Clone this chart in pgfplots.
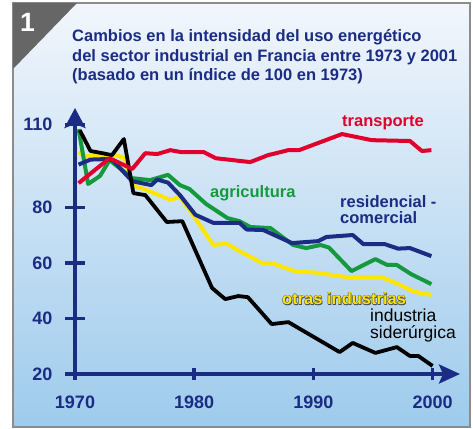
\documentclass[border=0pt]{standalone}
\usepackage{pgfplots}
\pgfplotsset{compat=1.18}
\usepackage{fontspec}
\setmainfont{Liberation Sans}
\usetikzlibrary{arrows.meta}
\definecolor{navy}{HTML}{1B2C85}
\definecolor{tred}{HTML}{E0002B}
\definecolor{tgreen}{HTML}{149A3C}
\definecolor{tyellow}{HTML}{FFE600}
\definecolor{tabgray}{HTML}{666666}
\definecolor{bgtop}{HTML}{F2F6FC}
\definecolor{bgbot}{HTML}{9ECBEC}
\definecolor{bordergray}{HTML}{8C8C8C}

\begin{document}
\begin{tikzpicture}
\begin{scope}[x=1pt,y=1pt]
\path (0,0) rectangle (473,428);
\shade[top color=bgtop, bottom color=bgbot] (13,1) rectangle (470,425);
\draw[bordergray, line width=1.3pt] (13,1) rectangle (470,425);
\fill[tabgray] (13,425) -- (77,425) -- (13,359) -- cycle;
\node[white, font=\bfseries\fontsize{26.5}{26.5}\selectfont, anchor=base, inner sep=0pt] at (27.5,396.3) {1};
\begin{scope}[every node/.style={anchor=base west, inner sep=0pt, text=navy, font=\bfseries\fontsize{16.5}{19}\selectfont}]
\node at (72,386.3) {Cambios en la intensidad del uso energético};
\node at (72,366.3) {del sector industrial en Francia entre 1973 y 2001};
\node at (72,347) {(basado en un índice de 100 en 1973)};
\end{scope}
\end{scope}

\begin{axis}[
  at={(75pt,54pt)}, anchor=south west, scale only axis,
  width=385pt, height=266pt,
  xmin=1970, xmax=2002.3, ymin=20, ymax=115.9,
  axis lines=left,
  axis line style={navy, line width=3.5pt},
  x axis line style={-{Stealth[length=21pt,width=19pt,inset=4pt]}},
  y axis line style={-{Stealth[length=20pt,width=21pt,inset=4pt]}},
  xtick={1970,1980,1990,2000}, xticklabels={1970,1980,1990,2000},
  ytick={20,40,60,80,110}, yticklabels={20,40,60,80,110},
  tick align=center,
  major tick length=20pt,
  y tick style={navy, line width=3.5pt},
  x tick style={draw=none},
  /pgf/number format/assume math mode=true,
  ticklabel style={text=navy, font=\bfseries\fontsize{18}{18}\selectfont},
  xticklabel style={yshift=-8pt},
  yticklabel style={xshift=-9pt},
  clip=false,
  every axis plot/.append style={line width=4pt, line join=round},
]
% otras industrias
\addplot[tyellow] coordinates {
(1970.3,100.0) (1970.8,98.4) (1971.7,98.9) (1973.4,98.9) (1974.1,98.0)
(1974.8,88.1) (1975.9,86.5) (1978.0,82.8) (1978.8,83.8) (1979.9,77.4)
(1981.6,66.5) (1982.7,67.0) (1983.8,64.3) (1985.7,60.0) (1986.5,60.0)
(1988.6,56.8) (1990.2,56.6) (1993.3,54.6) (1995.8,54.8) (1997.3,52.1)
(1998.4,49.7) (1999.9,48.5)};
% agricultura
\addplot[tgreen] coordinates {
(1970.3,108.3) (1971.1,88.5) (1972.1,91.4) (1972.9,97.1) (1974.8,90.6)
(1976.3,89.9) (1977.8,91.8) (1978.8,88.1) (1979.6,86.7) (1981.0,81.3)
(1982.8,76.2) (1983.8,75.1) (1984.7,73.0) (1986.4,72.6) (1988.3,66.5)
(1989.4,65.4) (1990.6,66.5) (1991.3,65.6) (1993.2,57.1) (1995.2,61.4)
(1996.2,59.3) (1997.0,59.3) (1998.2,56.0) (1999.9,52.4)};
% residencial - comercial
\addplot[navy] coordinates {
(1970.3,95.5) (1971.3,97.3) (1972.7,97.5) (1973.2,96.9) (1974.8,89.5)
(1976.4,88.1) (1976.9,90.1) (1977.8,89.0) (1978.8,84.5) (1980.1,77.4)
(1981.6,74.5) (1983.8,74.5) (1984.4,72.1) (1985.8,71.9) (1988.2,67.2)
(1990.4,67.9) (1991.1,69.4) (1993.3,70.1) (1994.2,66.8) (1996.0,66.8)
(1997.1,65.2) (1998.1,65.4) (1999.9,62.5)};
% industria siderurgica
\addplot[black, line width=3.8pt] coordinates {
(1970.4,107.9) (1971.3,100.4) (1972.3,99.6) (1973.1,98.9) (1974.1,104.7)
(1974.9,85.2) (1975.9,84.5) (1977.7,74.8) (1979.0,75.1) (1981.5,51.0)
(1982.6,47.0) (1983.7,48.1) (1984.5,47.7) (1986.5,38.0) (1987.9,38.7)
(1992.2,27.9) (1993.3,31.2) (1995.2,27.6) (1997.0,29.7) (1998.1,26.5)
(1998.8,26.5) (2000.0,22.9)};
% transporte
\addplot[tred] coordinates {
(1970.3,88.8) (1972.9,97.8) (1974.8,93.9) (1975.9,99.6) (1976.9,99.3)
(1978.0,100.7) (1978.9,100.0) (1980.8,100.0) (1981.8,97.8) (1984.7,96.4)
(1986.2,98.9) (1987.9,100.7) (1988.8,100.7) (1992.4,106.5) (1994.9,104.3)
(1998.1,104.0) (1999.1,100.4) (1999.9,100.7)};
% x-axis tick marks
\draw[navy, line width=3.5pt] (axis cs:1970,20) ++(0pt,-6pt) -- ++(0pt,12pt);
\draw[navy, line width=3.5pt] (axis cs:1980,20) ++(0pt,-6pt) -- ++(0pt,12pt);
\draw[navy, line width=3.5pt] (axis cs:1990,20) ++(0pt,-6pt) -- ++(0pt,12pt);
\draw[navy, line width=3.5pt] (axis cs:2000,20) ++(0pt,-6pt) -- ++(0pt,12pt);
\end{axis}

\begin{scope}[x=1pt,y=1pt]
\begin{scope}[every node/.style={anchor=base west, inner sep=0pt, font=\bfseries\fontsize{16.5}{19}\selectfont}]
\node[text=tred] at (342,301) {transporte};
\node[text=tgreen] at (210,230) {agricultura};
\node[text=navy] at (340,220.7) {residencial -};
\node[text=navy] at (340,204) {comercial};
\foreach \dx/\dy in {0.45/0,-0.45/0,0/0.45,0/-0.45,0.8/-0.8}
  \node[text=black!70] at (282+\dx,123+\dy) {otras industrias};
\node[text=tyellow] at (282,123) {otras industrias};
\end{scope}
\begin{scope}[every node/.style={anchor=base west, inner sep=0pt, text=black, font=\fontsize{17.5}{19}\selectfont}]
\node at (370,106.3) {industria};
\node at (370,89.7) {siderúrgica};
\end{scope}
\end{scope}
\end{tikzpicture}
\end{document}
